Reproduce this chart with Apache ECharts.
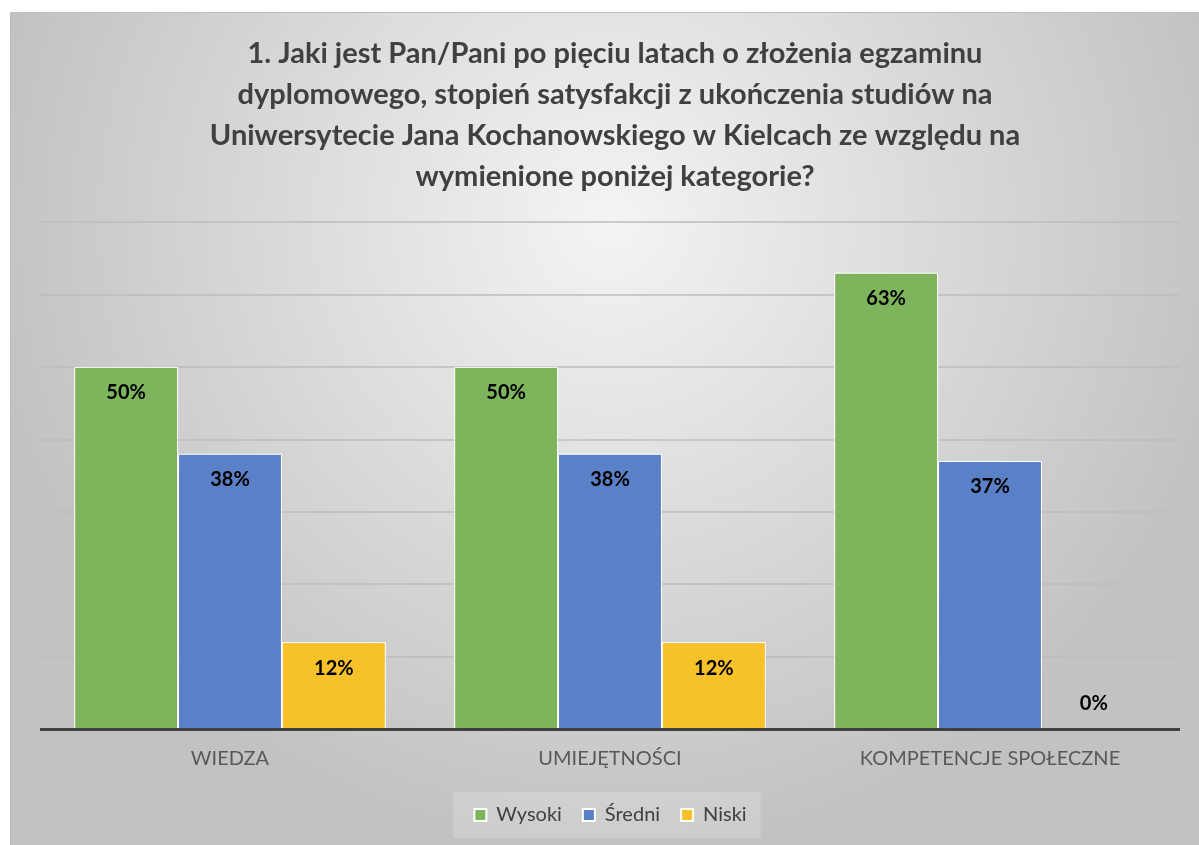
<!DOCTYPE html>
<html>
<head>
<meta charset="utf-8">
<script src="https://cdn.jsdelivr.net/npm/echarts@6/dist/echarts.min.js"></script>
<style>
  html, body { margin: 0; padding: 0; background: #fff; overflow: hidden; }
  #chart {
    position: absolute;
    left: 10px;
    top: 12px;
    width: 1200px;
    height: 840px;
    box-sizing: border-box;
    border: 1px solid #bdbdbd;
    background: radial-gradient(circle 630px at 50% 25%, #f4f4f4 0%, #c2c2c2 100%);
  }
</style>
</head>
<body>
<div id="chart"></div>
<script>
  // dane z wykresu
  var categories = ['WIEDZA', 'UMIEJĘTNOŚCI', 'KOMPETENCJE SPOŁECZNE']
  var seriesNames = ['Wysoki', 'Średni', 'Niski']
  var wysoki = [50, 50, 63]
  var sredni = [38, 38, 37]
  var niski = [12, 12, 0]

  var titleText = '1. Jaki jest Pan/Pani po pięciu latach o złożenia egzaminu\n' +
    'dyplomowego, stopień satysfakcji z ukończenia studiów na\n' +
    'Uniwersytecie Jana Kochanowskiego w Kielcach ze względu na\n' +
    'wymienione poniżej kategorie?'

  var chart = echarts.init(document.getElementById('chart'))

  var font = 'Lato, "Open Sans", sans-serif'

  function labelCfg() {
    return {
      show: true,
      position: 'insideTop',
      distance: 16,
      formatter: '{c}%',
      color: '#000',
      fontWeight: 'bold',
      fontSize: 20,
      fontFamily: font
    }
  }

  // wartość 0 - etykieta nad osią, bez białej ramki
  function toData(arr) {
    return arr.map(function (v) {
      if (v === 0) {
        return {
          value: v,
          label: { position: 'top', distance: 15 },
          itemStyle: { borderWidth: 0 }
        }
      }
      return v
    })
  }

  chart.setOption({
    animation: false,
    color: ['#7db45c', '#5a80c8', '#f7c12a'],
    title: {
      text: titleText,
      left: 599,
      textAlign: 'center',
      top: 15,
      textStyle: {
        fontFamily: font,
        fontWeight: 'bold',
        fontSize: 29,
        lineHeight: 41,
        color: '#404040'
      }
    },
    legend: {
      data: seriesNames,
      bottom: 13,
      left: 'center',
      itemWidth: 12,
      itemHeight: 12,
      itemGap: 20,
      padding: [13, 14, 13, 20],
      backgroundColor: 'rgba(255,255,255,0.18)',
      icon: 'rect',
      textStyle: {
        fontFamily: font,
        fontSize: 20,
        color: '#404040',
        padding: [0, 0, 0, 5]
      }
    },
    grid: {
      left: 29,
      right: 29,
      top: 209,
      bottom: 122
    },
    xAxis: {
      type: 'category',
      data: categories,
      axisTick: { show: false },
      axisLine: { show: false },
      axisLabel: {
        margin: 20,
        fontFamily: font,
        fontSize: 20,
        color: '#595959'
      }
    },
    yAxis: [
      {
        type: 'value',
        min: 0,
        max: 70,
        interval: 10,
        axisLabel: { show: false },
        axisLine: { show: false },
        axisTick: { show: false },
        splitLine: { lineStyle: { color: '#bdbdbd', width: 1.5 } }
      },
      {
        // ciemna linia osi na poziomie 0
        type: 'value',
        min: 0,
        max: 70,
        interval: 70,
        z: 5,
        axisLabel: { show: false },
        axisLine: { show: false },
        axisTick: { show: false },
        splitLine: { lineStyle: { color: ['#404040', 'rgba(0,0,0,0)'], width: 3 } }
      }
    ],
    series: [
      {
        name: seriesNames[0],
        type: 'bar',
        data: toData(wysoki),
        barGap: '0%',
        barCategoryGap: '18%',
        itemStyle: { borderColor: '#ffffff', borderWidth: 1 },
        label: labelCfg()
      },
      {
        name: seriesNames[1],
        type: 'bar',
        data: toData(sredni),
        barGap: '0%',
        barCategoryGap: '18%',
        itemStyle: { borderColor: '#ffffff', borderWidth: 1 },
        label: labelCfg()
      },
      {
        name: seriesNames[2],
        type: 'bar',
        data: toData(niski),
        barGap: '0%',
        barCategoryGap: '18%',
        itemStyle: { borderColor: '#ffffff', borderWidth: 1 },
        label: labelCfg()
      }
    ]
  })
</script>
</body>
</html>
